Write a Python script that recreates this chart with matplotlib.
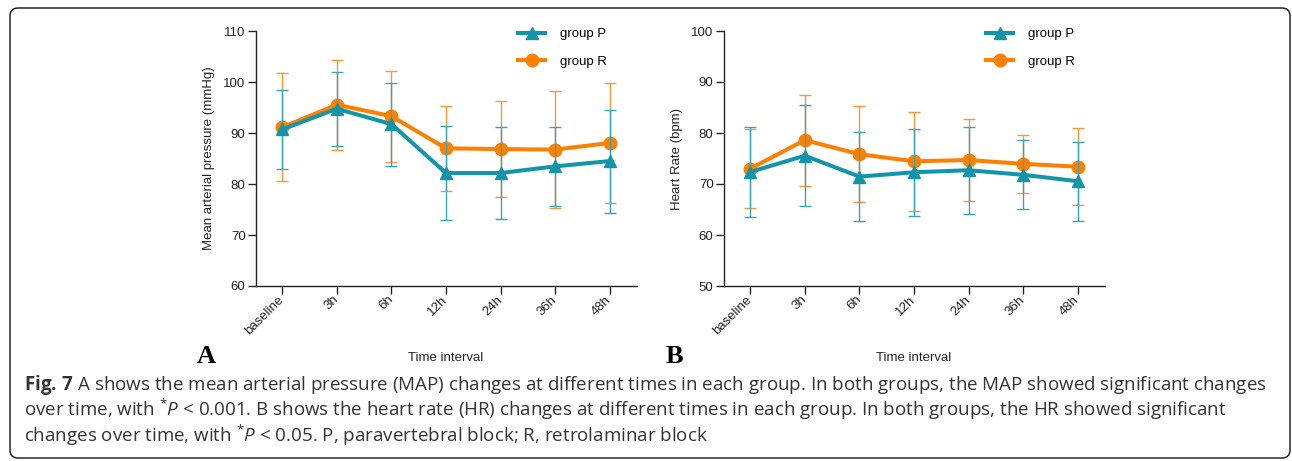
import matplotlib
matplotlib.use("Agg")
import matplotlib.pyplot as plt
from matplotlib.patches import FancyBboxPatch

# values (mean, SD)
timepoints = ["baseline", "3h", "6h", "12h", "24h", "36h", "48h"]
map_p_mean = [90.7, 94.75, 91.75, 82.15, 82.15, 83.45, 84.5]
map_p_sd = [7.8, 7.25, 8.15, 9.25, 8.95, 7.75, 10.1]
map_r_mean = [91.1, 95.55, 93.3, 87.0, 86.85, 86.75, 88.05]
map_r_sd = [10.6, 8.85, 8.9, 8.3, 9.45, 11.55, 11.85]
hr_p_mean = [72.35, 75.55, 71.45, 72.3, 72.7, 71.8, 70.55]
hr_p_sd = [8.75, 9.85, 8.65, 8.5, 8.5, 6.8, 7.75]
hr_r_mean = [73.0, 78.6, 75.85, 74.45, 74.7, 73.95, 73.4]
hr_r_sd = [7.8, 8.9, 9.35, 9.75, 8.0, 5.75, 7.5]

caption_lines = [
    r"$\mathbf{Fig.\,7}$ A shows the mean arterial pressure (MAP) changes at different times in each group. "
    r"In both groups, the MAP showed significant changes",
    r"over time, with $^{*}\mathit{P}$ < 0.001. B shows the heart rate (HR) changes at different times in "
    r"each group. In both groups, the HR showed significant",
    r"changes over time, with $^{*}\mathit{P}$ < 0.05. P, paravertebral block; R, retrolaminar block",
]

plt.rcParams["font.family"] = ["Liberation Sans", "DejaVu Sans"]
plt.rcParams["font.size"] = 9.5
plt.rcParams["mathtext.fontset"] = "custom"
plt.rcParams["mathtext.rm"] = "Open Sans"
plt.rcParams["mathtext.it"] = "Open Sans:italic"
plt.rcParams["mathtext.bf"] = "Open Sans:bold"

W, H = 1292, 461
teal, teal_bar = "#1395a9", "#33a6b8"
orange, orange_bar = "#ff8000", "#f8963a"
textColor = "#222222"


def px_axes(fig, left, top, right, bottom):
    return fig.add_axes([left / W, 1 - bottom / H, (right - left) / W, (bottom - top) / H])


def draw_panel(ax, p_mean, p_sd, r_mean, r_sd, ylim, ylabel):
    x = list(range(len(timepoints)))
    r = ax.errorbar(x, r_mean, yerr=r_sd, color=orange, ecolor=orange_bar,
                    elinewidth=1.0, capsize=4.5, capthick=1.0, lw=2.9,
                    marker="o", ms=9, zorder=2, clip_on=False)
    p = ax.errorbar(x, p_mean, yerr=p_sd, color=teal, ecolor=teal_bar,
                    elinewidth=1.0, capsize=4.5, capthick=1.0, lw=2.9,
                    marker="^", ms=9, zorder=3, clip_on=False)
    ax.set_xlim(-0.48, 6.5)
    ax.set_ylim(*ylim)
    ax.set_yticks(range(ylim[0], ylim[1] + 1, 10))
    ax.set_xticks(x)
    ax.set_xticklabels(timepoints, rotation=45, ha="right", va="center",
                       rotation_mode="anchor")
    for side in ["top", "right"]:
        ax.spines[side].set_visible(False)
    for side in ["left", "bottom"]:
        ax.spines[side].set_linewidth(1.0)
        ax.spines[side].set_color("#222222")
    ax.tick_params(axis="both", direction="out", length=5.5, width=1.0,
                   color="#222222", labelcolor=textColor)
    ax.tick_params(axis="y", pad=2)
    ax.tick_params(axis="x", pad=3)
    ax.set_ylabel(ylabel, color=textColor, labelpad=6)
    ax.legend([p[0], r[0]], ["group P", "group R"], loc="upper left",
              bbox_to_anchor=(0.688, 1.012), frameon=False, borderpad=0,
              borderaxespad=0, handlelength=2.05, handletextpad=1.1,
              labelspacing=1.15)


fig = plt.figure(figsize=(W / 100, H / 100), dpi=100)

axA = px_axes(fig, 256, 31, 637, 286)
draw_panel(axA, map_p_mean, map_p_sd, map_r_mean, map_r_sd, (60, 110),
           "Mean arterial pressure (mmHg)")
axB = px_axes(fig, 724, 31, 1105, 286)
draw_panel(axB, hr_p_mean, hr_p_sd, hr_r_mean, hr_r_sd, (50, 100),
           "Heart Rate (bpm)")

# x labels and panel letters
for cx in [446, 914]:
    fig.text(cx / W, 1 - 358 / H, "Time interval", ha="center", va="center",
             color=textColor)
for lx, letter in [(197, "A"), (666, "B")]:
    fig.text(lx / W, 1 - 363 / H, letter, ha="left", va="baseline",
             fontsize=19, fontweight="bold", family="Liberation Serif")

# caption
for i, line in enumerate(caption_lines):
    fig.text(24 / W, 1 - (390 + 26 * i) / H, line, ha="left", va="baseline",
             fontsize=13.5, family="Open Sans", color="#333333")

# rounded frame round the whole figure
frame = FancyBboxPatch((0.10, 0.03), 12.80, 4.50,
                       boxstyle="round,pad=0,rounding_size=0.08",
                       transform=fig.dpi_scale_trans, fill=False,
                       edgecolor="#111111", linewidth=1.0)
fig.patches.append(frame)

fig.savefig("out.png", dpi=100)
